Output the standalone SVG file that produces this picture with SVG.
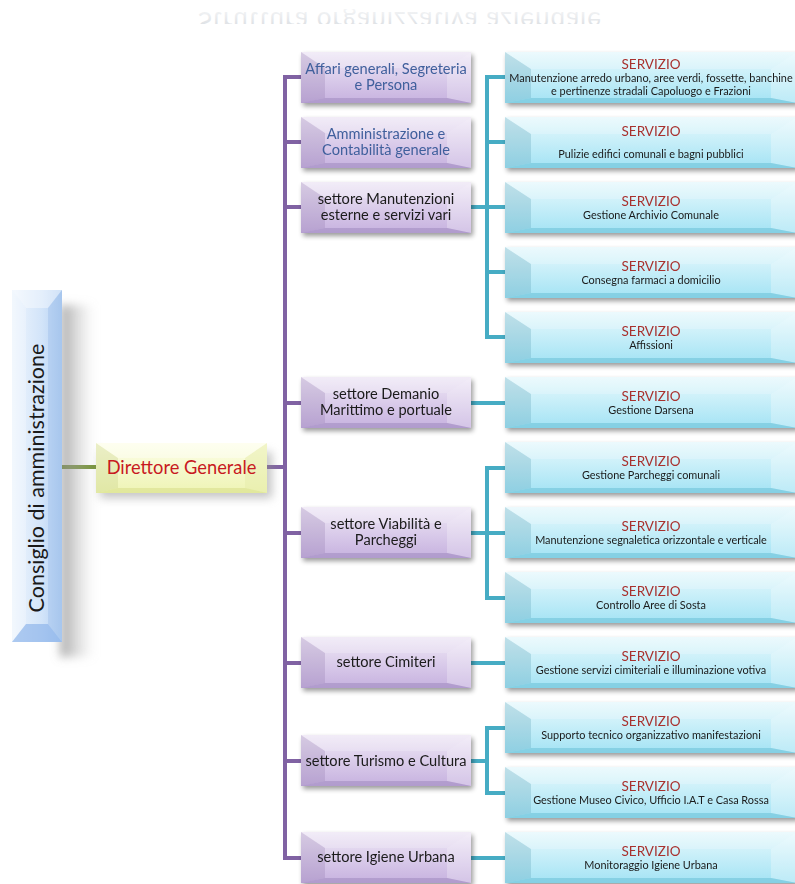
<svg xmlns="http://www.w3.org/2000/svg" xmlns:xlink="http://www.w3.org/1999/xlink" width="795" height="884" viewBox="0 0 795 884">
<style>
.sect{font-family:Lato,"Liberation Sans",sans-serif;font-size:14.6px;fill:#1a1a1a;text-anchor:middle}
.sectb{fill:#3f5f9c}
.sv{font-family:Lato,"Liberation Sans",sans-serif;font-size:13.5px;fill:#a8302e;text-anchor:middle}
.sd{font-family:Lato,"Liberation Sans",sans-serif;font-size:10.9px;fill:#1a1a1a;text-anchor:middle}
.dir{font-family:Lato,"Liberation Sans",sans-serif;font-size:18.3px;fill:#c8191f;text-anchor:middle}
.cons{font-family:Lato,"Liberation Sans",sans-serif;font-size:21.5px;fill:#1a1a1a;text-anchor:middle}
.pur{fill:none;stroke:#8062a3;stroke-width:4}
.tea{fill:none;stroke:#46acc4;stroke-width:4}
.grn{fill:none;stroke:#78943c;stroke-width:4}
</style>
<defs>
<linearGradient id="gSect" x1="0" y1="0" x2="0" y2="1"><stop offset="0" stop-color="#efe8f6"/><stop offset="1" stop-color="#c6b1df"/></linearGradient>
<linearGradient id="gServ" x1="0" y1="0" x2="0" y2="1"><stop offset="0" stop-color="#e8f9fd"/><stop offset="1" stop-color="#a3e3f4"/></linearGradient>
<linearGradient id="gDir" x1="0" y1="0" x2="0" y2="1"><stop offset="0" stop-color="#fdfee8"/><stop offset="1" stop-color="#eef4b4"/></linearGradient>
<linearGradient id="gCons" x1="0" y1="0" x2="1" y2="0"><stop offset="0" stop-color="#eef5fd"/><stop offset="0.6" stop-color="#d2e4f9"/><stop offset="1" stop-color="#b2cff2"/></linearGradient>
<linearGradient id="gTitle" x1="0" y1="0" x2="0" y2="1"><stop offset="0" stop-color="#aab2bc" stop-opacity="0.7"/><stop offset="1" stop-color="#d4d8dd" stop-opacity="0.2"/></linearGradient>
<linearGradient id="gShR" x1="0" y1="0" x2="1" y2="0"><stop offset="0" stop-color="#8a8a8a" stop-opacity="0.75"/><stop offset="1" stop-color="#bdbdbd" stop-opacity="0"/></linearGradient>
<filter id="sh" x="-20%" y="-30%" width="150%" height="170%"><feGaussianBlur in="SourceAlpha" stdDeviation="2.5"/><feOffset dx="2" dy="3" result="b"/><feComponentTransfer><feFuncA type="linear" slope="0.4"/></feComponentTransfer><feMerge><feMergeNode/><feMergeNode in="SourceGraphic"/></feMerge></filter>
<filter id="blur8" x="-50%" y="-20%" width="200%" height="140%"><feGaussianBlur stdDeviation="5"/></filter>
<clipPath id="titleClip"><rect x="150" y="9" width="500" height="15"/></clipPath>
<g id="sectBox">
<rect x="0" y="0" width="170" height="51" fill="url(#gSect)"/>
<polygon points="0,0 24,16 24,46 0,51" fill="#8a74a8" fill-opacity="0.25"/>
<polygon points="170,0 146,16 146,46 170,51" fill="#ffffff" fill-opacity="0.25"/>
<polygon points="0,0 170,0 146,16 24,16" fill="#ffffff" fill-opacity="0.2"/>
<polygon points="0,51 170,51 146,46 24,46" fill="#9b86bb" fill-opacity="0.5"/>
</g>
<g id="servBox">
<rect x="0" y="0" width="292" height="51" fill="url(#gServ)"/>
<polygon points="0,0 26,17 26,46 0,51" fill="#5a9db2" fill-opacity="0.28"/>
<polygon points="292,0 266,17 266,46 292,51" fill="#ffffff" fill-opacity="0.28"/>
<polygon points="0,0 292,0 266,17 26,17" fill="#ffffff" fill-opacity="0.2"/>
<polygon points="0,51 292,51 266,46 26,46" fill="#6fc3d9" fill-opacity="0.6"/>
</g>
</defs>
<rect width="795" height="884" fill="#ffffff"/>

<g id="title">
<g clip-path="url(#titleClip)">
<text transform="translate(0,12) scale(1,-1)" x="400" y="0" style="font-family:Lato,'Liberation Sans',sans-serif;font-size:26px;fill:url(#gTitle);text-anchor:middle;letter-spacing:1px">Struttura organizzativa aziendale</text>
</g>
</g>

<g id="connectors">
<path class="grn" d="M62,467 H97"/>
<path class="pur" d="M266,467 H285"/>
<path class="pur" d="M302,77 H285 V858 H302"/>
<path class="pur" d="M285,142 H302 M285,207 H302 M285,403 H302 M285,533 H302 M285,663 H302 M285,761 H302"/>
<path class="tea" d="M471,207 H487 M506,77 H487 V337 H506 M487,142 H506 M487,207 H506 M487,272 H506"/>
<path class="tea" d="M471,403 H506"/>
<path class="tea" d="M471,533 H487 M506,468 H487 V598 H506 M487,533 H506"/>
<path class="tea" d="M471,663 H506"/>
<path class="tea" d="M471,761 H487 M506,728 H487 V793 H506"/>
<path class="tea" d="M471,858 H506"/>
</g>

<g id="consiglio">
<rect x="60" y="305" width="34" height="352" fill="url(#gShR)" filter="url(#blur8)"/>
<rect x="12" y="290" width="50" height="352" fill="url(#gCons)"/>
<polygon points="12,290 62,290 48,308 26,308" fill="#ffffff" fill-opacity="0.4"/>
<polygon points="12,290 26,308 26,624 12,642" fill="#ffffff" fill-opacity="0.25"/>
<polygon points="62,290 48,308 48,624 62,642" fill="#8fb4e6" fill-opacity="0.3"/>
<polygon points="12,642 62,642 48,624 26,624" fill="#8ab2ea" fill-opacity="0.65"/>
<text class="cons" transform="translate(44,478) rotate(-90)" x="0" y="0">Consiglio di amministrazione</text>
</g>

<g id="direttore">
<rect x="100" y="452" width="172" height="46" fill="#8c8c8c" opacity="0.5" filter="url(#blur8)"/>
<rect x="96" y="443" width="171" height="50" fill="url(#gDir)"/>
<polygon points="96,443 118,458 118,488 96,493" fill="#c8d08a" fill-opacity="0.35"/>
<polygon points="267,443 245,458 245,488 267,493" fill="#e6ecaa" fill-opacity="0.5"/>
<polygon points="96,443 267,443 245,458 118,458" fill="#ffffff" fill-opacity="0.35"/>
<polygon points="96,493 267,493 245,488 118,488" fill="#d8e08c" fill-opacity="0.6"/>
<text class="dir" x="181.5" y="474">Direttore Generale</text>
</g>

<g id="s1" filter="url(#sh)"><use xlink:href="#sectBox" x="301" y="52"/><text class="sect sectb" x="386" y="74">Affari generali, Segreteria</text><text class="sect sectb" x="386" y="90">e Persona</text></g>
<g id="s2" filter="url(#sh)"><use xlink:href="#sectBox" x="301" y="117"/><text class="sect sectb" x="386" y="139">Amministrazione e</text><text class="sect sectb" x="386" y="155">Contabilità generale</text></g>
<g id="s3" filter="url(#sh)"><use xlink:href="#sectBox" x="301" y="182"/><text class="sect" x="386" y="204">settore Manutenzioni</text><text class="sect" x="386" y="220">esterne e servizi vari</text></g>
<g id="s4" filter="url(#sh)"><use xlink:href="#sectBox" x="301" y="377"/><text class="sect" x="386" y="399">settore Demanio</text><text class="sect" x="386" y="415">Marittimo e portuale</text></g>
<g id="s5" filter="url(#sh)"><use xlink:href="#sectBox" x="301" y="507"/><text class="sect" x="386" y="529">settore Viabilità e</text><text class="sect" x="386" y="545">Parcheggi</text></g>
<g id="s6" filter="url(#sh)"><use xlink:href="#sectBox" x="301" y="637"/><text class="sect" x="386" y="667">settore Cimiteri</text></g>
<g id="s7" filter="url(#sh)"><use xlink:href="#sectBox" x="301" y="735"/><text class="sect" x="386" y="766">settore Turismo e Cultura</text></g>
<g id="s8" filter="url(#sh)"><use xlink:href="#sectBox" x="301" y="832"/><text class="sect" x="386" y="862">settore Igiene Urbana</text></g>

<g id="v1" filter="url(#sh)"><use xlink:href="#servBox" x="505" y="52"/><text class="sv" x="651" y="69">SERVIZIO</text><text class="sd" x="651" y="82">Manutenzione arredo urbano, aree verdi, fossette, banchine</text><text class="sd" x="651" y="95">e pertinenze stradali Capoluogo e Frazioni</text></g>
<g id="v2" filter="url(#sh)"><use xlink:href="#servBox" x="505" y="117"/><text class="sv" x="651" y="136">SERVIZIO</text><text class="sd" x="651" y="158">Pulizie edifici comunali e bagni pubblici</text></g>
<g id="v3" filter="url(#sh)"><use xlink:href="#servBox" x="505" y="182"/><text class="sv" x="651" y="206">SERVIZIO</text><text class="sd" x="651" y="219">Gestione Archivio Comunale</text></g>
<g id="v4" filter="url(#sh)"><use xlink:href="#servBox" x="505" y="247"/><text class="sv" x="651" y="271">SERVIZIO</text><text class="sd" x="651" y="284">Consegna farmaci a domicilio</text></g>
<g id="v5" filter="url(#sh)"><use xlink:href="#servBox" x="505" y="312"/><text class="sv" x="651" y="336">SERVIZIO</text><text class="sd" x="651" y="349">Affissioni</text></g>
<g id="v6" filter="url(#sh)"><use xlink:href="#servBox" x="505" y="377"/><text class="sv" x="651" y="401">SERVIZIO</text><text class="sd" x="651" y="414">Gestione Darsena</text></g>
<g id="v7" filter="url(#sh)"><use xlink:href="#servBox" x="505" y="442"/><text class="sv" x="651" y="466">SERVIZIO</text><text class="sd" x="651" y="479">Gestione Parcheggi  comunali</text></g>
<g id="v8" filter="url(#sh)"><use xlink:href="#servBox" x="505" y="507"/><text class="sv" x="651" y="531">SERVIZIO</text><text class="sd" x="651" y="544">Manutenzione segnaletica orizzontale e verticale</text></g>
<g id="v9" filter="url(#sh)"><use xlink:href="#servBox" x="505" y="572"/><text class="sv" x="651" y="596">SERVIZIO</text><text class="sd" x="651" y="609">Controllo Aree di Sosta</text></g>
<g id="v10" filter="url(#sh)"><use xlink:href="#servBox" x="505" y="637"/><text class="sv" x="651" y="661">SERVIZIO</text><text class="sd" x="651" y="674">Gestione servizi cimiteriali e illuminazione votiva</text></g>
<g id="v11" filter="url(#sh)"><use xlink:href="#servBox" x="505" y="702"/><text class="sv" x="651" y="726">SERVIZIO</text><text class="sd" x="651" y="739">Supporto tecnico organizzativo manifestazioni</text></g>
<g id="v12" filter="url(#sh)"><use xlink:href="#servBox" x="505" y="767"/><text class="sv" x="651" y="791">SERVIZIO</text><text class="sd" x="651" y="804">Gestione Museo Civico, Ufficio I.A.T e Casa Rossa</text></g>
<g id="v13" filter="url(#sh)"><use xlink:href="#servBox" x="505" y="832"/><text class="sv" x="651" y="856">SERVIZIO</text><text class="sd" x="651" y="869">Monitoraggio Igiene Urbana</text></g>
</svg>
